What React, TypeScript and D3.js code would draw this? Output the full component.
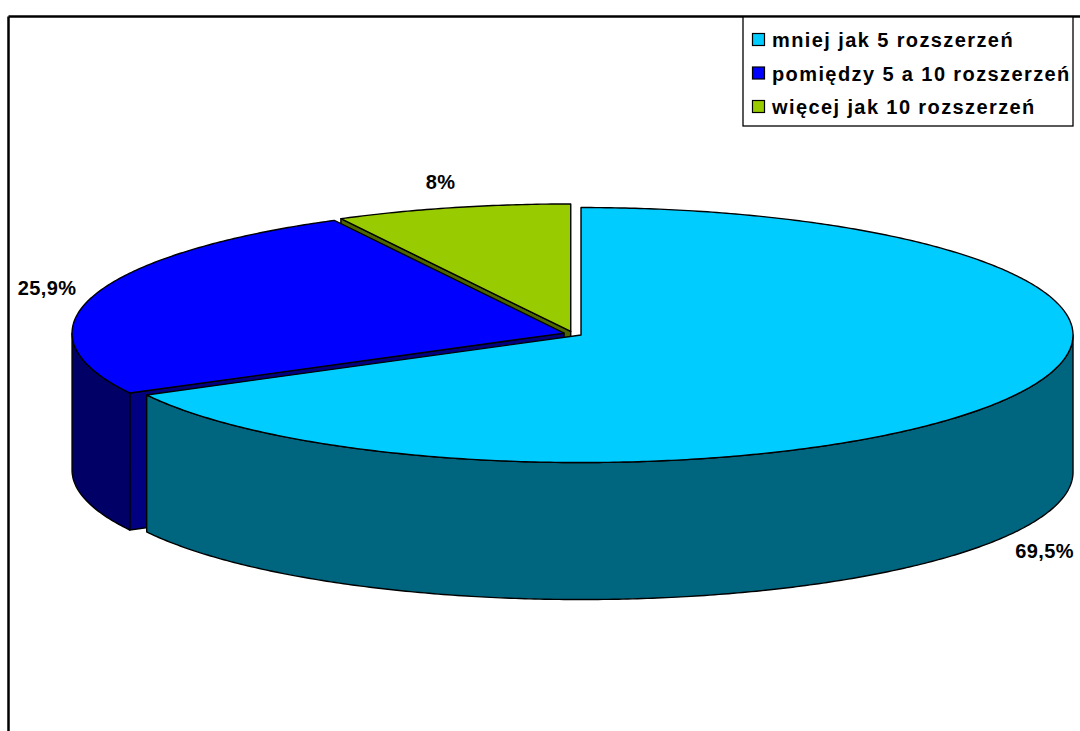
import React from "react";
import * as d3 from "d3";

const categories = ["mniej jak 5 rozszerzeń", "pomiędzy 5 a 10 rozszerzeń", "więcej jak 10 rozszerzeń"];
const values = [69.5, 25.9, 8];
const labels = ["69,5%", "25,9%", "8%"];
const topColors = ["#00CCFF", "#0000FF", "#99CC00"];
const wallColors = ["#006680", "#000066", "#4D6600"];
const faceColors = ["#006680", "#000080", "#4D6600"];

const W = 1080;
const H = 731;
const cx = 573;
const cy = 333.8;
const rx = 492;
const ry = 127.5;
const depth = 137;
const explode = 0.019;

type Pt = [number, number];

function pt(ox: number, oy: number, a: number, dz = 0): Pt {
  return [ox + rx * Math.sin(a), oy - ry * Math.cos(a) + dz];
}

function arcPts(ox: number, oy: number, a0: number, a1: number, dz = 0): Pt[] {
  const n = Math.max(2, Math.ceil(Math.abs(a1 - a0) / 0.01));
  return d3.range(n + 1).map((i) => pt(ox, oy, a0 + ((a1 - a0) * i) / n, dz));
}

const lineGen = d3.line<Pt>().x((d) => d[0]).y((d) => d[1]);

export default function App() {
  const pie = d3.pie<number>().sort(null).startAngle(0).endAngle(2 * Math.PI);
  const arcs = pie(values);

  const slices = arcs.map((a, i) => {
    const mid = (a.startAngle + a.endAngle) / 2;
    const ox = cx + explode * rx * Math.sin(mid);
    const oy = cy - explode * ry * Math.cos(mid);
    return { a, i, mid, ox, oy };
  });

  const order = [...slices].sort((p, q) => -Math.cos(p.mid) - -Math.cos(q.mid));

  const elements: React.ReactNode[] = [];
  order.forEach((s) => {
    const { a, i, ox, oy } = s;
    const apexTop: Pt = [ox, oy];
    const apexBot: Pt = [ox, oy + depth];
    const faces: number[] = [];
    if (Math.sin(a.startAngle) < -1e-6) faces.push(a.startAngle);
    if (Math.sin(a.endAngle) > 1e-6) faces.push(a.endAngle);
    faces.forEach((ang, k) => {
      const p1 = pt(ox, oy, ang);
      const p2 = pt(ox, oy, ang, depth);
      elements.push(
        <path
          key={`f${i}-${k}`}
          d={lineGen([apexTop, p1, p2, apexBot])! + "Z"}
          fill={faceColors[i]}
          stroke="#000"
          strokeWidth={1.4}
          strokeLinejoin="round"
        />
      );
    });
    const w0 = Math.max(a.startAngle, Math.PI / 2);
    const w1 = Math.min(a.endAngle, (3 * Math.PI) / 2);
    if (w1 > w0) {
      const top = arcPts(ox, oy, w0, w1);
      const bot = arcPts(ox, oy, w1, w0, depth);
      elements.push(
        <path
          key={`w${i}`}
          d={lineGen([...top, ...bot])! + "Z"}
          fill={wallColors[i]}
          stroke="#000"
          strokeWidth={1.4}
          strokeLinejoin="round"
        />
      );
    }
    const topArc = arcPts(ox, oy, a.startAngle, a.endAngle);
    elements.push(
      <path
        key={`t${i}`}
        d={lineGen([apexTop, ...topArc])! + "Z"}
        fill={topColors[i]}
        stroke="#000"
        strokeWidth={1.4}
        strokeLinejoin="round"
      />
    );
  });

  const padX = 58;
  const labelEls = slices.map((s) => {
    const c = Math.cos(s.mid);
    const x = cx + (rx + padX) * Math.sin(s.mid);
    const y = cy - (1.13 * ry + 12) * c + (c < 0 ? depth : 0);
    return (
      <text
        key={`l${s.i}`}
        x={x}
        y={y}
        textAnchor="middle"
        dominantBaseline="central"
        fontFamily="Liberation Sans, Arial, sans-serif"
        fontWeight="bold"
        fontSize={20}
        letterSpacing={0.4}
        fill="#000"
      >
        {labels[s.i]}
      </text>
    );
  });

  const legX = 743;
  const legY = 17;
  const legW = 330;
  const legH = 109;
  const rowY = d3.scaleLinear().domain([0, 1]).range([legY + 23, legY + 23 + 33.5]);

  return (
    <svg
      width={W}
      height={H}
      style={{ position: "absolute", left: 0, top: 0, display: "block", background: "#fff" }}
    >
      <rect x={0} y={0} width={W} height={H} fill="#fff" />
      <line x1={8.5} y1={16.5} x2={W} y2={16.5} stroke="#000" strokeWidth={2.5} />
      <line x1={8.5} y1={16.5} x2={8.5} y2={H} stroke="#000" strokeWidth={2.5} />
      {elements}
      {labelEls}
      <rect x={legX} y={legY} width={legW} height={legH} fill="#fff" stroke="#000" strokeWidth={1.3} />
      {categories.map((c, i) => (
        <g key={`lg${i}`}>
          <rect
            x={legX + 9.5}
            y={rowY(i) - 6.5}
            width={12}
            height={12}
            fill={topColors[i]}
            stroke="#000"
            strokeWidth={1.2}
          />
          <text
            x={legX + 29}
            y={rowY(i)}
            dominantBaseline="central"
            fontFamily="Liberation Sans, Arial, sans-serif"
            fontWeight="bold"
            fontSize={20}
            letterSpacing={1.4}
            fill="#000"
          >
            {c}
          </text>
        </g>
      ))}
    </svg>
  );
}
